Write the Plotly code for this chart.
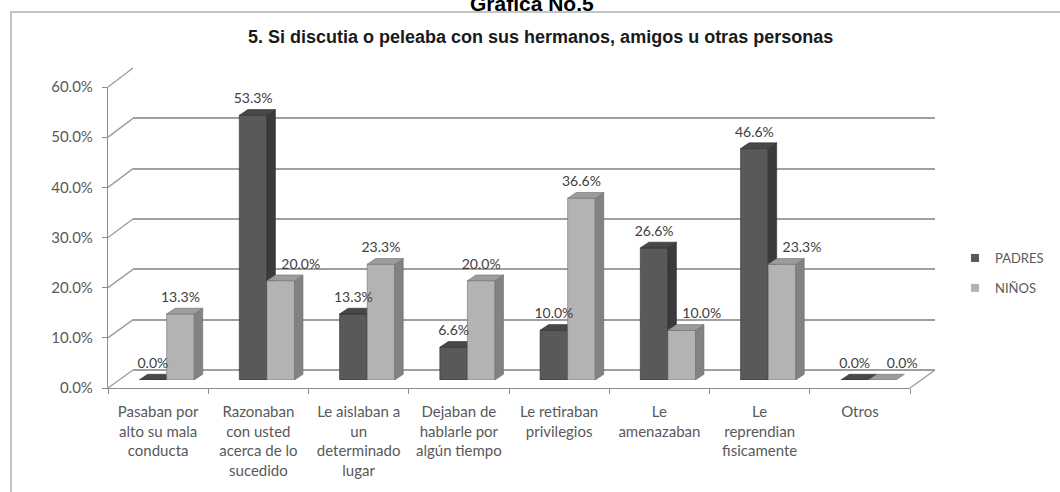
import plotly.graph_objects as go

# ---------------- data ----------------
categories = [
    "Pasaban por<br>alto su mala<br>conducta",
    "Razonaban<br>con usted<br>acerca de lo<br>sucedido",
    "Le aislaban a<br>un<br>determinado<br>lugar",
    "Dejaban de<br>hablarle por<br>algún tiempo",
    "Le retiraban<br>privilegios",
    "Le<br>amenazaban",
    "Le<br>reprendian<br>fisicamente",
    "Otros",
]
padres = [0.0, 53.3, 13.3, 6.6, 10.0, 26.6, 46.6, 0.0]
ninos = [13.3, 20.0, 23.3, 20.0, 36.6, 10.0, 23.3, 0.0]
series_names = ["PADRES", "NIÑOS"]
y_ticks = [0, 10, 20, 30, 40, 50, 60]
chart_title = "Gráfica No.5"
chart_subtitle = "5. Si discutia o peleaba con sus hermanos, amigos u otras personas"

# ---------------- layout helpers ----------------
W, H = 1060, 492
def px(x):
    return x / W
def py(y):
    return 1 - y / H

FRONT_X = (108, 910)      # front floor edge
BACK_X = (133, 935)       # back wall
BAR_Y = (380, 82)         # bars base / 60%
FRONT_Y = (388, 87)       # front axis 0 / 60%
BACK_Y = (370, 68)        # back wall 0 / 60%

n = len(categories)
bar_w = 0.275
offsets = [0.31, 0.31 + bar_w]
dx, dy = 0.085, 1.15

front_cols = ["#595959", "#b3b3b3"]
side_cols = ["#3a3a3a", "#828282"]
top_cols = ["#484848", "#9c9c9c"]
edge_cols = ["#2e2e2e", "#6e6e6e"]

fig = go.Figure()

# back wall subplot (drawn first): x / y
fig.add_trace(go.Scatter(x=[None], y=[None], xaxis="x", yaxis="y",
                         showlegend=False, hoverinfo="skip"))
# front axis subplot: x2 / y2
fig.add_trace(go.Scatter(x=[None], y=[None], xaxis="x2", yaxis="y2",
                         showlegend=False, hoverinfo="skip"))

# bars subplot: x2 / y3
for s, vals in enumerate([padres, ninos]):
    fx, fy, sx, sy, tx, ty = [], [], [], [], [], []
    for i, v in enumerate(vals):
        xl = i + offsets[s]
        xr = xl + bar_w
        if v > 0:
            fx += [xl, xr, xr, xl, xl, None]
            fy += [0, 0, v, v, 0, None]
            sx += [xr, xr + dx, xr + dx, xr, xr, None]
            sy += [0, dy, v + dy, v, 0, None]
        tx += [xl, xr, xr + dx, xl + dx, xl, None]
        ty += [v, v, v + dy, v + dy, v, None]
    for xs, ys, col in [(fx, fy, front_cols[s]), (sx, sy, side_cols[s]), (tx, ty, top_cols[s])]:
        fig.add_trace(go.Scatter(
            x=xs, y=ys, mode="lines", fill="toself", fillcolor=col,
            line=dict(color=edge_cols[s], width=0.6),
            xaxis="x2", yaxis="y3", showlegend=False, hoverinfo="skip"))

# data labels (NIÑOS label nudged right when the PADRES bar would sit behind it)
for s, vals in enumerate([padres, ninos]):
    lx = []
    for i, v in enumerate(vals):
        c = i + offsets[s] + bar_w / 2
        if s == 1 and padres[i] >= ninos[i]:
            c += 0.2
        lx.append(c)
    fig.add_trace(go.Scatter(
        x=lx, y=[v + 3.1 for v in vals],
        mode="text", text=[f"{v:.1f}%" for v in vals], cliponaxis=False,
        textfont=dict(family="Lato, Carlito, sans-serif", size=14, color="#404040"),
        xaxis="x2", yaxis="y3", showlegend=False, hoverinfo="skip"))

# legend entries
for s, name in enumerate(series_names):
    fig.add_trace(go.Scatter(
        x=[None], y=[None], mode="markers", name=name, legendgroup=name,
        marker=dict(symbol="square", size=8, color=front_cols[s]),
        xaxis="x2", yaxis="y3"))

grid_col = "#a0a0a0"
axis_col = "#8c8c8c"
tick_font_x = dict(family="Lato, Carlito, sans-serif", size=15, color="#595959")
tick_font_y = dict(family="Lato, Carlito, sans-serif", size=15, color="#595959")

fig.update_layout(
    width=W, height=H,
    margin=dict(l=0, r=0, t=0, b=0, autoexpand=False),
    paper_bgcolor="white", plot_bgcolor="rgba(0,0,0,0)",
    showlegend=True,
    legend=dict(x=px(955), y=py(273), xanchor="left", yanchor="middle",
                font=dict(family="Lato, Carlito, sans-serif", size=13, color="#595959"),
                tracegroupgap=10, bgcolor="rgba(0,0,0,0)"),
    # back wall
    xaxis=dict(domain=[px(BACK_X[0]), px(BACK_X[1])], range=[0, 1], anchor="y",
               visible=False, fixedrange=True),
    yaxis=dict(domain=[py(BACK_Y[0]), py(BACK_Y[1])], range=[0, 60], anchor="x",
               showgrid=True, gridcolor=grid_col, gridwidth=1.5,
               tickvals=y_ticks, showticklabels=False, ticks="",
               zeroline=True, zerolinecolor=grid_col, zerolinewidth=1.5,
               showline=False, fixedrange=True),
    # front axes
    xaxis2=dict(domain=[px(FRONT_X[0]), px(FRONT_X[1])], range=[0, n], anchor="y2",
                showline=True, linecolor=axis_col, linewidth=1.2, showgrid=False, zeroline=False,
                tickvals=[i + 0.5 for i in range(n)], ticktext=categories, ticks="",
                tickangle=0, tickfont=tick_font_x, ticklabelstandoff=10,
                minor=dict(tickvals=list(range(n + 1)), ticks="outside", ticklen=5,
                           tickcolor=axis_col, showgrid=False),
                fixedrange=True),
    yaxis2=dict(domain=[py(FRONT_Y[0]), py(FRONT_Y[1])], range=[0, 60], anchor="x2",
                side="left", showline=True, linecolor=axis_col, linewidth=1.2,
                tickvals=y_ticks, ticktext=[f"{t:.1f}%" for t in y_ticks],
                ticks="outside", ticklen=5, tickcolor=axis_col, tickfont=tick_font_y,
                ticklabelstandoff=6, showgrid=False, zeroline=False, fixedrange=True),
    # bars
    yaxis3=dict(domain=[py(BAR_Y[0]), py(BAR_Y[1])], range=[0, 60], anchor="x2",
                visible=False, fixedrange=True),
)

# 3D connectors between front axis and back wall
def yf(v):
    return py(FRONT_Y[0] + (FRONT_Y[1] - FRONT_Y[0]) * v / 60)
def yb(v):
    return py(BACK_Y[0] + (BACK_Y[1] - BACK_Y[0]) * v / 60)

for t in y_ticks:
    fig.add_shape(type="line", xref="paper", yref="paper",
                  x0=px(FRONT_X[0]), y0=yf(t), x1=px(BACK_X[0]), y1=yb(t),
                  line=dict(color=grid_col, width=1.5), layer="below")
fig.add_shape(type="line", xref="paper", yref="paper",
              x0=px(FRONT_X[1]), y0=yf(0), x1=px(BACK_X[1]), y1=yb(0),
              line=dict(color=grid_col, width=1.5), layer="below")

# outer chart frame
fig.add_shape(type="rect", xref="paper", yref="paper",
              x0=px(11), y0=-0.02, x1=1.02, y1=py(12),
              line=dict(color="#c4c4c4", width=2), layer="below")

fig.add_annotation(text=f"<b>{chart_title}</b>", xref="paper", yref="paper",
                   x=px(532), y=py(3), xanchor="center", yanchor="middle", showarrow=False,
                   font=dict(family="Liberation Sans, Arial, sans-serif", size=21, color="#000000"))
fig.add_annotation(text=f"<b>{chart_subtitle}</b>", xref="paper", yref="paper",
                   x=px(540), y=py(37), xanchor="center", yanchor="middle", showarrow=False,
                   font=dict(family="Liberation Sans, Arial, sans-serif", size=18, color="#1a1a1a"))

fig.write_html("out.html", config={"displayModeBar": False},
               post_script="document.body.style.margin='0px';document.body.style.padding='0px';")
